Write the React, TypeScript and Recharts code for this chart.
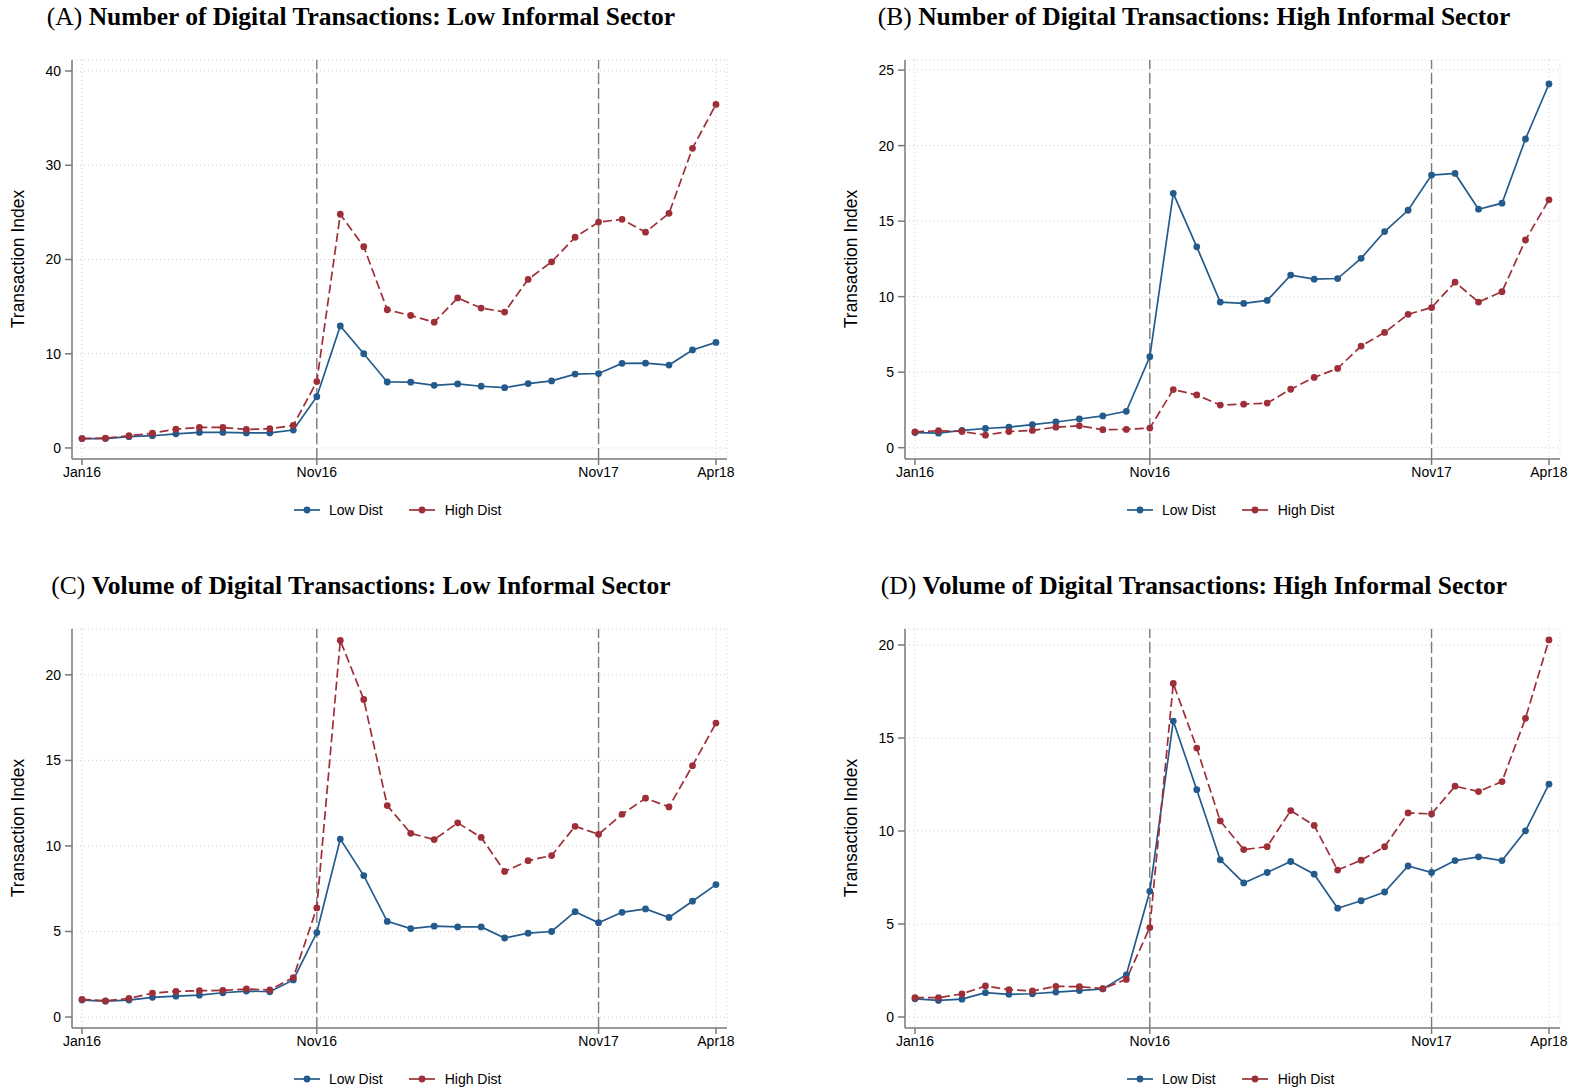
import React from "react"
import { LineChart, Line, XAxis, YAxis, CartesianGrid, ReferenceLine } from "recharts"

// months: 0 = Jan16 ... 27 = Apr18
const monthTicks = [0, 10, 22, 27]
const monthLabels: Record<number, string> = { 0: "Jan16", 10: "Nov16", 22: "Nov17", 27: "Apr18" }

const lowA = [1.0, 1.0, 1.2, 1.3, 1.5, 1.65, 1.65, 1.6, 1.6, 1.9, 5.44, 12.95, 10.0, 7.0, 6.98, 6.65, 6.8, 6.55, 6.4, 6.83, 7.12, 7.84, 7.9, 8.98, 9.0, 8.8, 10.4, 11.2]
const highA = [1.0, 1.04, 1.3, 1.57, 2.0, 2.18, 2.18, 1.97, 2.04, 2.4, 7.05, 24.8, 21.36, 14.67, 14.06, 13.35, 15.92, 14.85, 14.42, 17.89, 19.75, 22.36, 23.97, 24.26, 22.9, 24.9, 31.8, 36.46]

const lowB = [1.0, 0.96, 1.14, 1.27, 1.36, 1.52, 1.7, 1.9, 2.1, 2.41, 6.02, 16.84, 13.3, 9.64, 9.55, 9.75, 11.43, 11.16, 11.2, 12.54, 14.31, 15.72, 18.05, 18.16, 15.79, 16.19, 20.44, 24.08]
const highB = [1.05, 1.12, 1.07, 0.83, 1.07, 1.14, 1.36, 1.45, 1.19, 1.21, 1.3, 3.85, 3.49, 2.82, 2.88, 2.95, 3.87, 4.65, 5.25, 6.73, 7.63, 8.83, 9.28, 10.96, 9.64, 10.33, 13.75, 16.41]

const lowC = [0.99, 0.93, 0.99, 1.15, 1.22, 1.28, 1.42, 1.52, 1.48, 2.17, 4.94, 10.4, 8.27, 5.59, 5.17, 5.31, 5.27, 5.27, 4.62, 4.9, 5.0, 6.16, 5.51, 6.12, 6.32, 5.82, 6.77, 7.74]
const highC = [1.03, 0.95, 1.09, 1.4, 1.5, 1.54, 1.56, 1.64, 1.58, 2.31, 6.38, 22.01, 18.56, 12.36, 10.74, 10.37, 11.35, 10.5, 8.51, 9.14, 9.44, 11.15, 10.68, 11.85, 12.79, 12.28, 14.69, 17.18]

const lowD = [0.98, 0.89, 0.96, 1.31, 1.22, 1.25, 1.34, 1.42, 1.51, 2.27, 6.76, 15.91, 12.22, 8.45, 7.21, 7.77, 8.36, 7.68, 5.85, 6.25, 6.72, 8.12, 7.77, 8.41, 8.61, 8.41, 10.01, 12.52]
const highD = [1.04, 1.04, 1.24, 1.67, 1.47, 1.4, 1.65, 1.63, 1.53, 2.02, 4.81, 17.93, 14.46, 10.54, 9.0, 9.16, 11.1, 10.3, 7.9, 8.43, 9.16, 10.97, 10.92, 12.41, 12.12, 12.66, 16.06, 20.27]

const BLUE = "#245b8c"
const RED = "#9e2f38"
const SANS = "'Liberation Sans', Arial, sans-serif"
const SERIF = "'Liberation Serif', 'Times New Roman', serif"

interface PanelProps {
  left: number
  top: number
  letter: string
  title: string
  low: number[]
  high: number[]
  yDomain: [number, number]
  yTicks: number[]
}

function Panel({ left, top, letter, title, low, high, yDomain, yTicks }: PanelProps) {
  const data = low.map((v, i) => ({ t: i, low: v, high: high[i] }))
  return (
    <div style={{ position: "absolute", left, top, width: 833, height: 569 }}>
      <div
        style={{
          position: "absolute", left: 0, width: 722, top: 2, textAlign: "center",
          fontFamily: SERIF, fontSize: 25.5, lineHeight: "30px", color: "#000", whiteSpace: "nowrap",
        }}
      >
        <span>({letter})</span>{" "}
        <span style={{ fontWeight: "bold" }}>{title}</span>
      </div>
      <div
        style={{
          position: "absolute", left: 18, top: 259, transform: "translate(-50%, -50%) rotate(-90deg)",
          fontFamily: SANS, fontSize: 17.5, color: "#000", whiteSpace: "nowrap",
        }}
      >
        Transaction Index
      </div>
      <div style={{ position: "absolute", left: 0, top: 0 }}>
        <LineChart width={833} height={500} data={data} margin={{ top: 60, left: 22, right: 106, bottom: 0 }}>
          <CartesianGrid stroke="#cfcfcf" strokeDasharray="1 3" />
          <XAxis
            type="number" dataKey="t" domain={[-0.426, 27.47]} ticks={monthTicks} allowDataOverflow
            tickFormatter={(v: number) => monthLabels[v] ?? ""} height={41}
            tick={{ fontSize: 14, fill: "#000", fontFamily: SANS }}
            stroke="#7a7a7a" strokeWidth={1.5} tickSize={6} tickMargin={2}
          />
          <YAxis
            type="number" domain={yDomain} ticks={yTicks} allowDataOverflow width={50}
            tick={{ fontSize: 14, fill: "#000", fontFamily: SANS }}
            stroke="#7a7a7a" strokeWidth={1.5} tickSize={7} tickMargin={4}
          />
          <ReferenceLine x={10} stroke="#7a7a7a" strokeWidth={1.4} strokeDasharray="11 4" />
          <ReferenceLine x={22} stroke="#7a7a7a" strokeWidth={1.4} strokeDasharray="11 4" />
          <Line
            dataKey="low" stroke={BLUE} strokeWidth={1.7} isAnimationActive={false}
            dot={{ r: 3.4, fill: BLUE, stroke: "none" }}
          />
          <Line
            dataKey="high" stroke={RED} strokeWidth={1.7} strokeDasharray="9 4" isAnimationActive={false}
            dot={{ r: 3.4, fill: RED, stroke: "none", strokeDasharray: "0" }}
          />
        </LineChart>
      </div>
      <div
        style={{
          position: "absolute", top: 502, left: 294, display: "flex", alignItems: "center",
          fontFamily: SANS, fontSize: 14, color: "#000",
        }}
      >
        <svg width={26} height={16}><line x1={0} y1={8} x2={26} y2={8} stroke={BLUE} strokeWidth={1.7} /><circle cx={13} cy={8} r={3.4} fill={BLUE} /></svg>
        <span style={{ marginLeft: 9, marginRight: 26 }}>Low Dist</span>
        <svg width={26} height={16}><line x1={0} y1={8} x2={26} y2={8} stroke={RED} strokeWidth={1.7} /><circle cx={13} cy={8} r={3.4} fill={RED} /></svg>
        <span style={{ marginLeft: 10 }}>High Dist</span>
      </div>
    </div>
  )
}

export default function App() {
  return (
    <div style={{ position: "absolute", left: 0, top: 0, width: 1576, height: 1091, background: "#fff" }}>
      <Panel left={0} top={0} letter="A" title="Number of Digital Transactions: Low Informal Sector"
        low={lowA} high={highA} yDomain={[-1.17, 41.17]} yTicks={[0, 10, 20, 30, 40]} />
      <Panel left={833} top={0} letter="B" title="Number of Digital Transactions: High Informal Sector"
        low={lowB} high={highB} yDomain={[-0.75, 25.67]} yTicks={[0, 5, 10, 15, 20, 25]} />
      <Panel left={0} top={569} letter="C" title="Volume of Digital Transactions: Low Informal Sector"
        low={lowC} high={highC} yDomain={[-0.64, 22.68]} yTicks={[0, 5, 10, 15, 20]} />
      <Panel left={833} top={569} letter="D" title="Volume of Digital Transactions: High Informal Sector"
        low={lowD} high={highD} yDomain={[-0.59, 20.86]} yTicks={[0, 5, 10, 15, 20]} />
    </div>
  )
}
